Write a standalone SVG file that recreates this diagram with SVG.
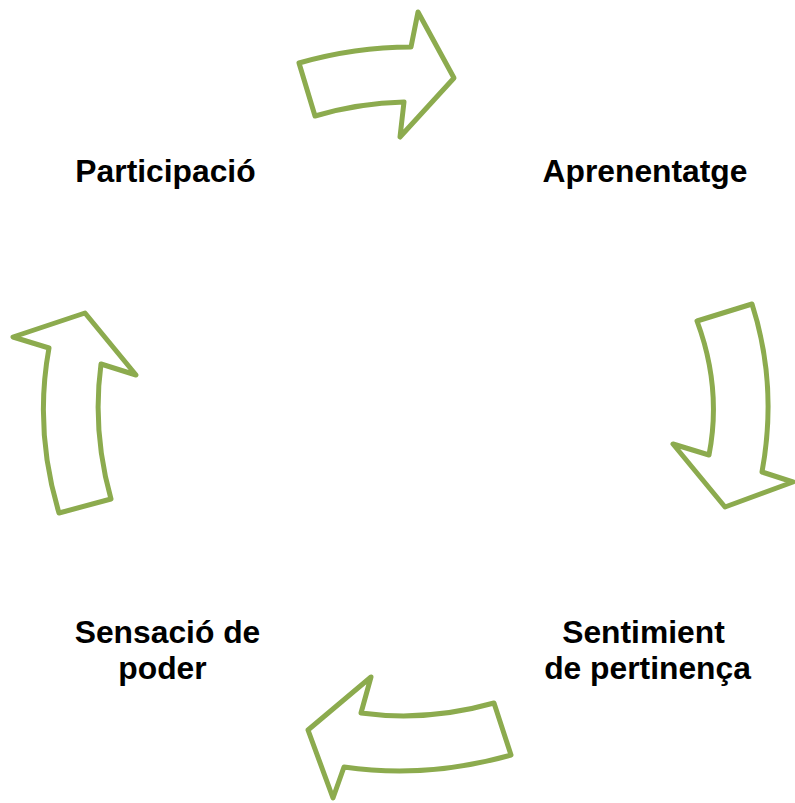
<svg xmlns="http://www.w3.org/2000/svg" width="795" height="803" viewBox="0 0 795 803">
<style>
.arr{fill:#ffffff;stroke:#8CAB4E;stroke-width:5;stroke-linejoin:round}
.lbl{font-family:"Liberation Sans",Arial,sans-serif;font-weight:bold;font-size:31.8px;fill:#000;text-anchor:middle}
</style>
<rect width="795" height="803" fill="#ffffff"/>
<g id="connectors">
<path id="arrow-top" class="arr" d="M299,63 Q355,47 411,47 L418,12 L454,78 L400,137 L404,102 Q359,103 315,116 Z"/>
<path id="arrow-right" class="arr" d="M697,321 L752,304 Q778,385 762,472 L793,482 L725,507 L673,444 L709,455 Q722,388 697,321 Z"/>
<path id="arrow-bottom" class="arr" d="M494,703 Q427,722 361,713 L371,677 L308,730 L333,798 L344,767 Q427,779 511,755 Z"/>
<path id="arrow-left" class="arr" d="M59,513 L111,499 Q92,431 101,364 L136,375 L85,313 L13,337 L49,348 Q34,430 59,513 Z"/>
</g>
<g id="node-participacio"><text class="lbl" x="165.5" y="181.5">Participació</text></g>
<g id="node-aprenentatge"><text class="lbl" x="645" y="181.5">Aprenentatge</text></g>
<g id="node-sentiment"><text class="lbl" x="643.5" y="643">Sentimient</text><text class="lbl" x="647.5" y="679">de pertinença</text></g>
<g id="node-sensacio"><text class="lbl" x="167.5" y="643">Sensació de</text><text class="lbl" x="162.5" y="679">poder</text></g>
</svg>
